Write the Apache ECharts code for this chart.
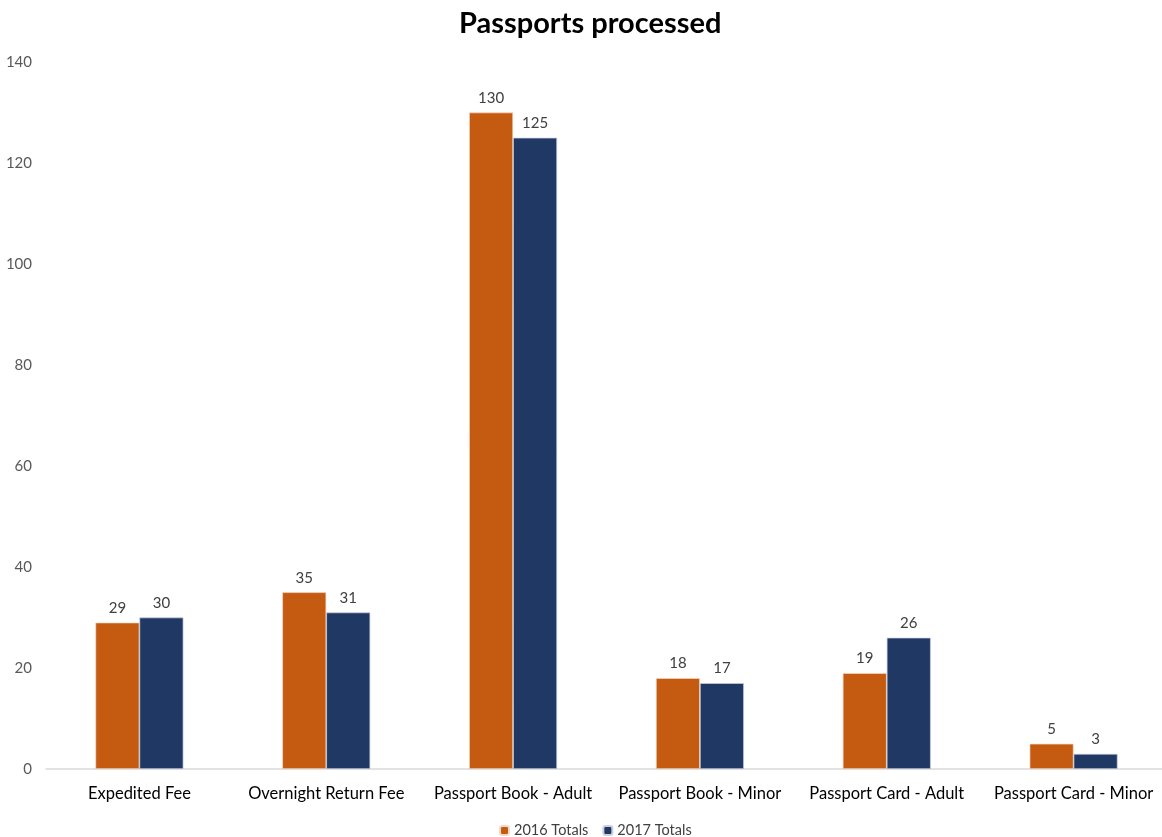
<!DOCTYPE html>
<html><head><meta charset="utf-8">
<script src="https://cdn.jsdelivr.net/npm/echarts@6/dist/echarts.min.js"></script>
<style>html,body{margin:0;padding:0;background:#fff}#c{width:1162px;height:837px}</style>
</head><body><div id="c"></div>
<script>
const categories = ["Expedited Fee","Overnight Return Fee","Passport Book - Adult","Passport Book - Minor","Passport Card - Adult","Passport Card - Minor"];
const totals2016 = [29,35,130,18,19,5];
const totals2017 = [30,31,125,17,26,3];
const yTicks = {min:0,max:140,interval:20};
const chart = echarts.init(document.getElementById('c'));
const font = 'Lato, "Open Sans", sans-serif';
const lbl = {show:true,position:'top',distance:7,color:'#404040',fontSize:15,fontFamily:font};
chart.setOption({
  animation:false,
  textStyle:{fontFamily:font},
  title:{text:'Passports processed',left:454,top:4,textStyle:{fontSize:29,fontWeight:'bold',color:'#000',fontFamily:font}},
  grid:{left:46,width:1121,top:62,bottom:68,containLabel:false,outerBoundsMode:'none'},
  legend:{top:818,left:494,itemWidth:9,itemHeight:9,itemGap:14,textStyle:{fontSize:14.5,color:'#404040',fontFamily:font},data:['2016 Totals','2017 Totals']},
  xAxis:{type:'category',data:categories,axisLine:{lineStyle:{color:'#d9d9d9',width:1.5}},axisTick:{show:false},axisLabel:{color:'#000',fontSize:16.5,margin:16,fontFamily:font,interval:0}},
  yAxis:{type:'value',min:yTicks.min,max:yTicks.max,interval:yTicks.interval,splitLine:{show:false},axisLine:{show:false},axisTick:{show:false},axisLabel:{color:'#595959',fontSize:15,margin:14,fontFamily:font}},
  series:[
    {name:'2016 Totals',type:'bar',data:totals2016,barWidth:44,barGap:'0%',itemStyle:{color:'#C55A11',borderColor:'#f4d9c6',borderWidth:0.7},label:lbl},
    {name:'2017 Totals',type:'bar',data:totals2017,barWidth:44,itemStyle:{color:'#203864',borderColor:'#c9d0de',borderWidth:0.7},label:lbl}
  ]
});
</script></body></html>
